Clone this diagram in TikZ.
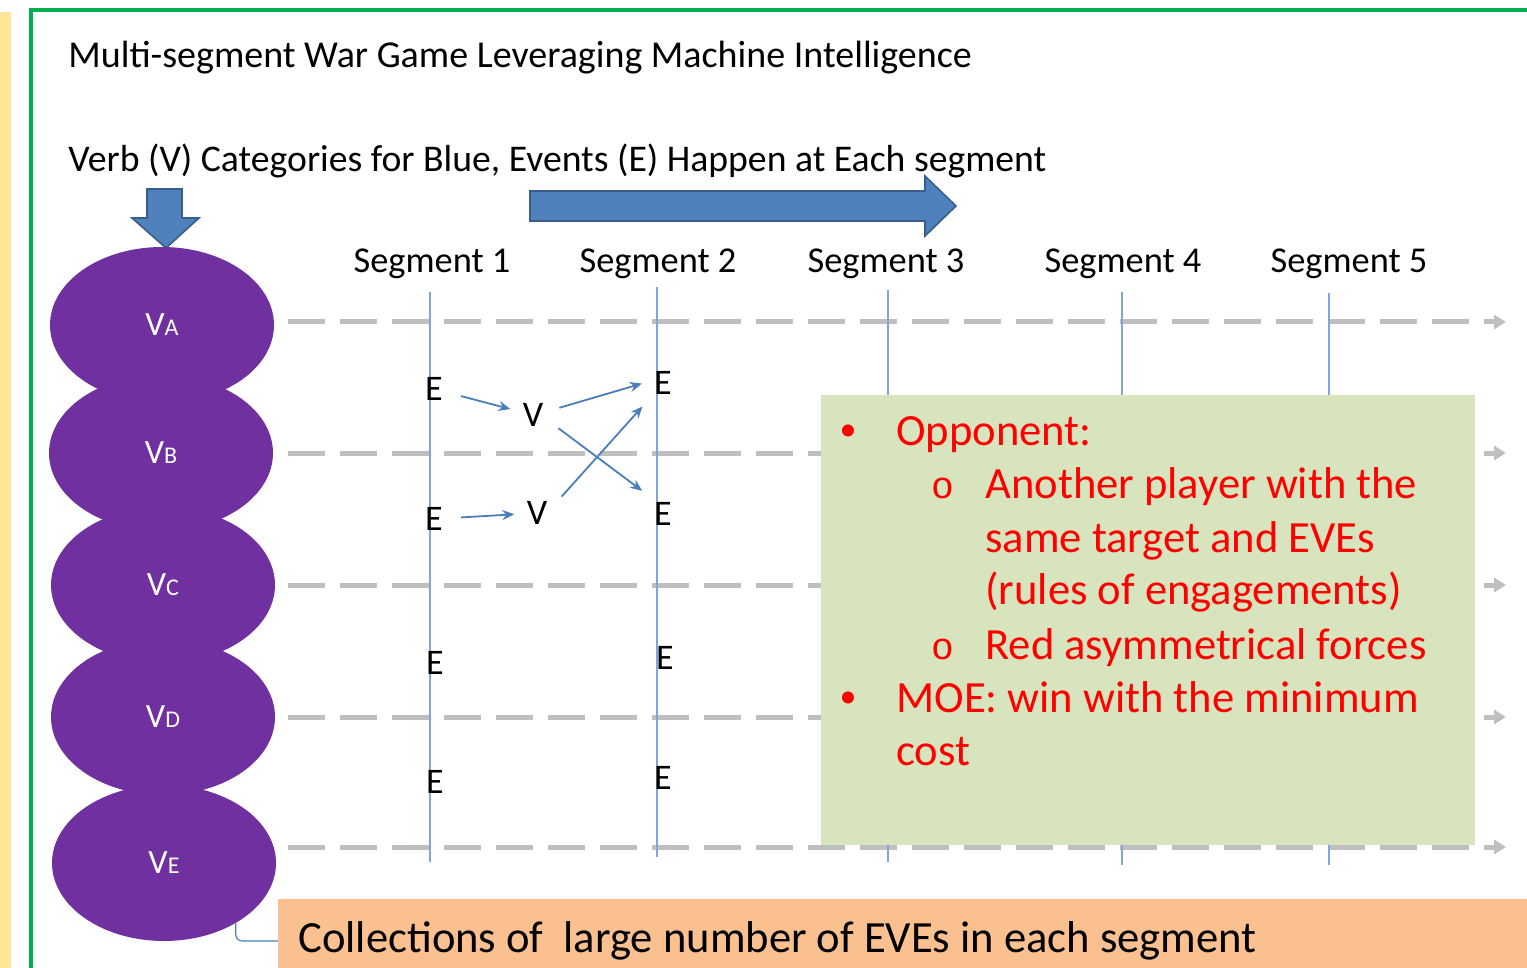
\documentclass[tikz,border=0pt]{standalone}
\usepackage{fontspec}
\setmainfont{Carlito}
\newfontfamily\monofam{Liberation Mono}
\usetikzlibrary{shapes.geometric,arrows.meta,calc}
\definecolor{vpurple}{HTML}{7030A0}
\definecolor{bluefill}{HTML}{4F81BD}
\definecolor{blueedge}{HTML}{385D8A}
\definecolor{segblue}{HTML}{7EA6D8}
\definecolor{flowblue}{HTML}{4A7EBB}
\definecolor{tlgray}{HTML}{BFBFBF}
\definecolor{notegreen}{HTML}{D7E4BD}
\definecolor{collorange}{HTML}{FAC090}
\definecolor{framegreen}{HTML}{00B050}
\definecolor{stripyellow}{HTML}{FFE699}
\definecolor{notered}{HTML}{FF0000}
\begin{document}
\begin{tikzpicture}[x=0.5pt,y=-0.5pt,
  titletext/.style={anchor=base west, inner sep=0pt, font=\fontsize{19}{23}\selectfont},
  seglabel/.style={anchor=base, inner sep=0pt, font=\fontsize{18.2}{22}\selectfont},
  verbnode/.style={ellipse, fill=vpurple, minimum width=112pt, minimum height=78pt, inner sep=0pt, text=white, font=\fontsize{17}{20}\selectfont},
  evt/.style={inner sep=5pt, font=\fontsize{18}{22}\selectfont},
  flow/.style={draw=flowblue, line width=0.9pt, -{Stealth[length=6pt,width=5pt]}, shorten >=1pt, shorten <=2pt},
  timeline/.style={draw=tlgray, line width=2.5pt, dash pattern=on 18.5pt off 7.5pt, -{Triangle[length=6pt,width=7pt]}},
  segline/.style={draw=segblue, line width=1pt},
  notetext/.style={anchor=base west, inner sep=0pt, text=notered, font=\fontsize{22.3}{26}\selectfont},
  notebul/.style={anchor=base, inner sep=0pt, text=notered, font=\fontsize{17}{20}\selectfont},
  subbul/.style={anchor=base, inner sep=0pt, text=notered, font=\monofam\fontsize{19}{22}\selectfont},
  blockarrow/.style={fill=bluefill, draw=blueedge, line width=0.8pt},
  conn/.style={draw=flowblue, line width=0.6pt, rounded corners=3pt}
]
\useasboundingbox (0,0) rectangle (1527,968);
\clip (0,0) rectangle (1527,968);
% yellow strip and green frame
\fill[stripyellow] (0,12) rectangle (11,968);
\draw[framegreen, line width=2pt] (31,970) -- (31,10) -- (1530,10);
% titles
\node[titletext] (title) at (68,68) {Multi-segment War Game Leveraging Machine Intelligence};
\node[titletext, font=\fontsize{18.85}{23}\selectfont] (verbline) at (68,172) {Verb (V) Categories for Blue, Events (E) Happen at Each segment};
% block arrows
\draw[blockarrow] (147,189) -- (182,189) -- (182,218) -- (199,218) -- (166,248) -- (132,218) -- (147,218) -- cycle;
\draw[blockarrow] (530,191) -- (925,191) -- (925,176) -- (956,206) -- (925,236) -- (925,221) -- (530,221) -- cycle;
% segment labels
\node[seglabel] (seg1) at (432,273) {Segment 1};
\node[seglabel] (seg2) at (658,273) {Segment 2};
\node[seglabel] (seg3) at (886,273) {Segment 3};
\node[seglabel] (seg4) at (1123,273) {Segment 4};
\node[seglabel] (seg5) at (1349,273) {Segment 5};
% time lines
\foreach \n/\y in {A/322,B/453,C/585,D/717,E/847}{
  \coordinate (ts\n) at (288,\y);
  \coordinate (te\n) at (1506,\y);
  \draw[timeline] (ts\n) -- (te\n);
}
% segment vertical lines
\coordinate (s1t) at (430,292); \coordinate (s1b) at (430,862);
\coordinate (s2t) at (657,287); \coordinate (s2b) at (657,857);
\coordinate (s3t) at (888,290); \coordinate (s3b) at (888,862);
\coordinate (s4t) at (1122,292); \coordinate (s4b) at (1122,865);
\coordinate (s5t) at (1329,293); \coordinate (s5b) at (1329,865);
\foreach \k in {1,...,5}{\draw[segline] (s\k t) -- (s\k b);}
% verb ellipses
\node[verbnode] (VA) at (162,325) {V{\fontsize{12}{14}\selectfont A}};
\node[verbnode] (VB) at (161,453) {V{\fontsize{12}{14}\selectfont B}};
\node[verbnode] (VC) at (163,585) {V{\fontsize{12}{14}\selectfont C}};
\node[verbnode] (VD) at (163,717) {V{\fontsize{12}{14}\selectfont D}};
\node[verbnode] (VE) at (164,863) {V{\fontsize{12}{14}\selectfont E}};
% events and verbs
\node[evt] (E11) at (434,389) {E};
\node[evt] (E12) at (434,519) {E};
\node[evt] (E13) at (435,663) {E};
\node[evt] (E14) at (435,782) {E};
\node[evt] (E21) at (663,383) {E};
\node[evt] (E22) at (663,514) {E};
\node[evt] (E23) at (665,658) {E};
\node[evt] (E24) at (663,778) {E};
\node[evt] (V1) at (533,415) {V};
\node[evt] (V2) at (537,513) {V};
\draw[flow, shorten <=4pt] (E11) -- (V1);
\draw[flow, shorten <=4pt] (E12) -- (V2);
\draw[flow, shorten <=3pt] (V1.15) -- (E21.west);
\draw[flow, shorten <=3pt] (V1.-25) -- (E22.north west);
\draw[flow, shorten <=3pt] (V2.30) -- (E21.south west);
% note box
\node[fill=notegreen, minimum width=327pt, minimum height=225pt, inner sep=0pt] (note) at (1148,620) {};
\node[notebul] (b1) at (848,440) {•};
\node[notetext] (t1) at (896,445) {Opponent:};
\node[subbul] (o1) at (943,498) {o};
\node[notetext] (t2) at (985,498) {Another player with the};
\node[notetext] (t3) at (985,552) {same target and EVEs};
\node[notetext] (t4) at (985,604) {(rules of engagements)};
\node[subbul] (o2) at (943,659) {o};
\node[notetext] (t5) at (985,659) {Red asymmetrical forces};
\node[notebul] (b2) at (848,707) {•};
\node[notetext] (t6) at (896,712) {MOE: win with the minimum};
\node[notetext] (t7) at (896,765) {cost};
% collections box
\node[fill=collorange, anchor=north west, minimum width=624.5pt, minimum height=34.5pt, inner sep=0pt] (coll) at (278,899) {};
\node[anchor=base west, inner sep=0pt, font=\fontsize{22.3}{26}\selectfont] (colltext) at (298,952) {Collections of \ large number of EVEs in each segment};
\draw[conn] (VE.-40) |- ([yshift=-3.5pt]coll.west);
\end{tikzpicture}
\end{document}
